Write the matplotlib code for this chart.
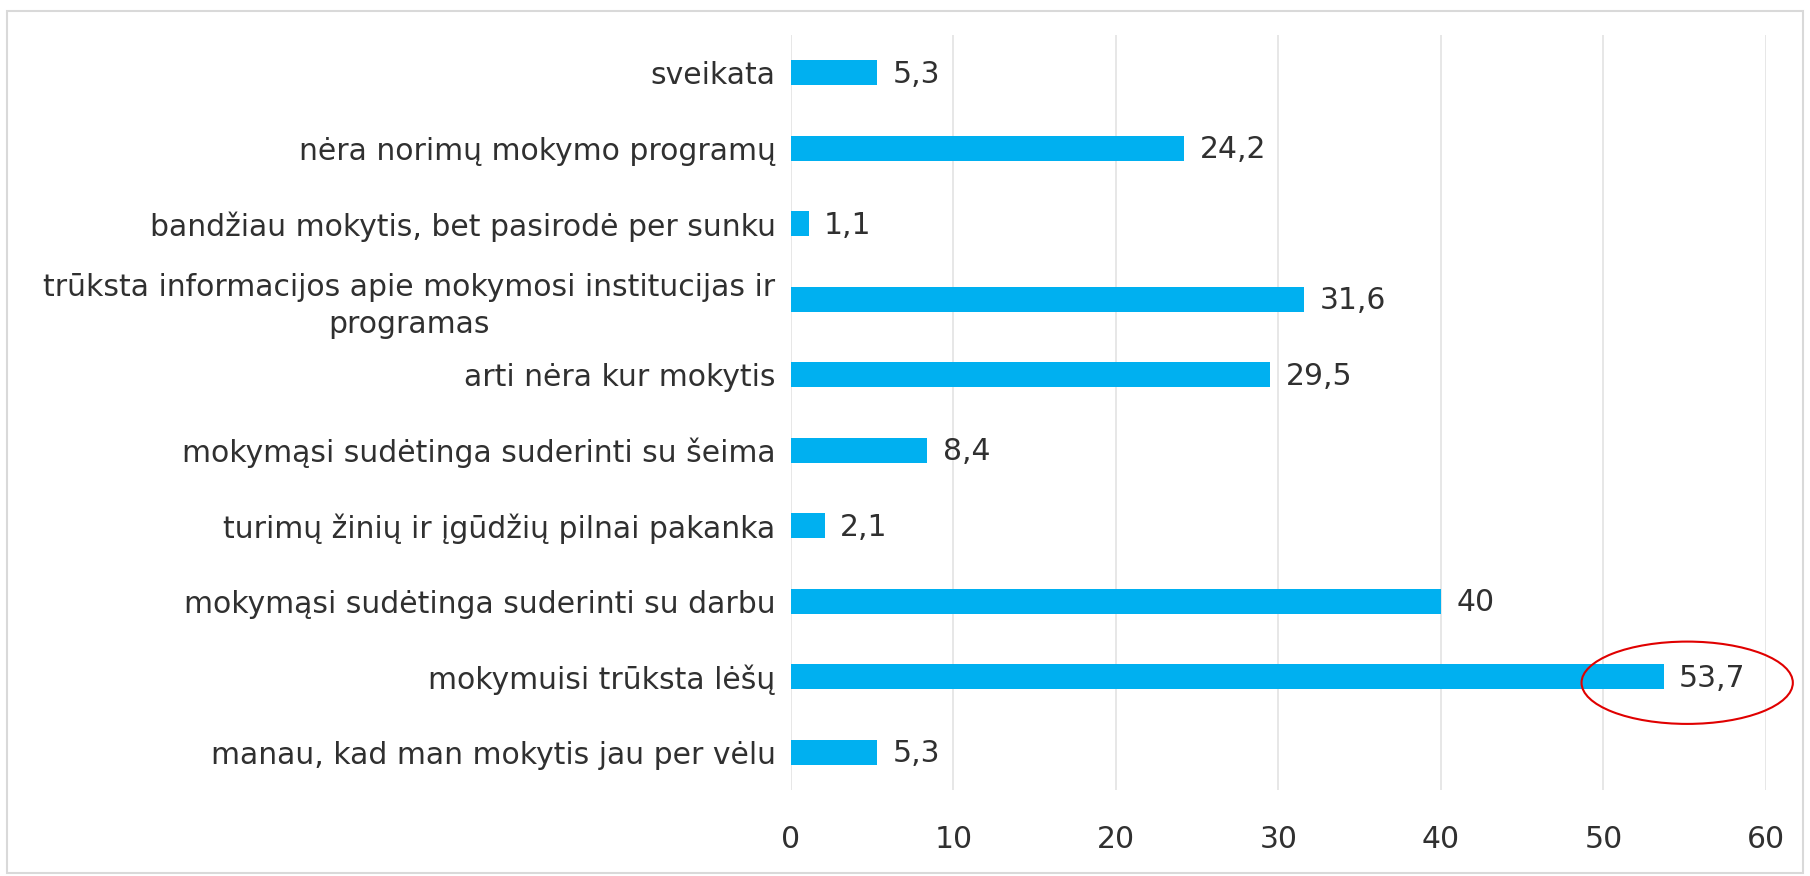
import matplotlib
matplotlib.use("Agg")
import matplotlib.pyplot as plt
from matplotlib.patches import Ellipse, Rectangle

categories = [
    "sveikata",
    "nėra norimų mokymo programų",
    "bandžiau mokytis, bet pasirodė per sunku",
    "trūksta informacijos apie mokymosi institucijas ir\nprogramas",
    "arti nėra kur mokytis",
    "mokymąsi sudėtinga suderinti su šeima",
    "turimų žinių ir įgūdžių pilnai pakanka",
    "mokymąsi sudėtinga suderinti su darbu",
    "mokymuisi trūksta lėšų",
    "manau, kad man mokytis jau per vėlu",
]
values = [5.3, 24.2, 1.1, 31.6, 29.5, 8.4, 2.1, 40, 53.7, 5.3]
xticks = [0, 10, 20, 30, 40, 50, 60]
highlight = 8  # index of circled bar

plt.rcParams['font.family'] = ['DejaVu Sans']
txt = '#303030'
fs = 21.5

fig = plt.figure(figsize=(18.1, 8.76), dpi=100)
ax = fig.add_axes([0.4369, 0.0982, 0.5388, 0.862])

pos = list(range(len(values)))
ax.barh(pos, values, height=0.33, color='#00B0F0', zorder=3)
ax.set_ylim(len(values) - 0.5, -0.5)
ax.set_xlim(0, 60)
ax.set_xticks(xticks)
ax.set_yticks(pos)
ax.set_yticklabels(categories, fontsize=fs, color=txt, multialignment='center',
                   linespacing=1.35)
ax.set_xticklabels([str(t) for t in xticks], fontsize=fs, color=txt)
ax.tick_params(axis='both', length=0)
ax.tick_params(axis='y', pad=11)
ax.tick_params(axis='x', pad=25)
ax.grid(axis='x', color='#E0E0E0', lw=1.1, zorder=0)
for s in ax.spines.values():
    s.set_visible(False)

for i, v in enumerate(values):
    lab = ('%g' % v).replace('.', ',')
    ax.annotate(lab, (v, i), xytext=(11, -1), textcoords='offset points',
                va='center', ha='left', fontsize=fs, color=txt)

# red ellipse around the highlighted value
hv = values[highlight]
ax.add_patch(Ellipse((hv + 1.45, highlight + 0.08), 13.0, 1.09, fill=False,
                     edgecolor='#E00000', lw=1.5, clip_on=False, zorder=5))

# light frame around the whole picture
fig.patches.append(Rectangle((0.004, 0.003), 0.992, 0.985, transform=fig.transFigure,
                             fill=False, edgecolor='#D9D9D9', lw=1.5))

fig.savefig('out.png', dpi=100)
